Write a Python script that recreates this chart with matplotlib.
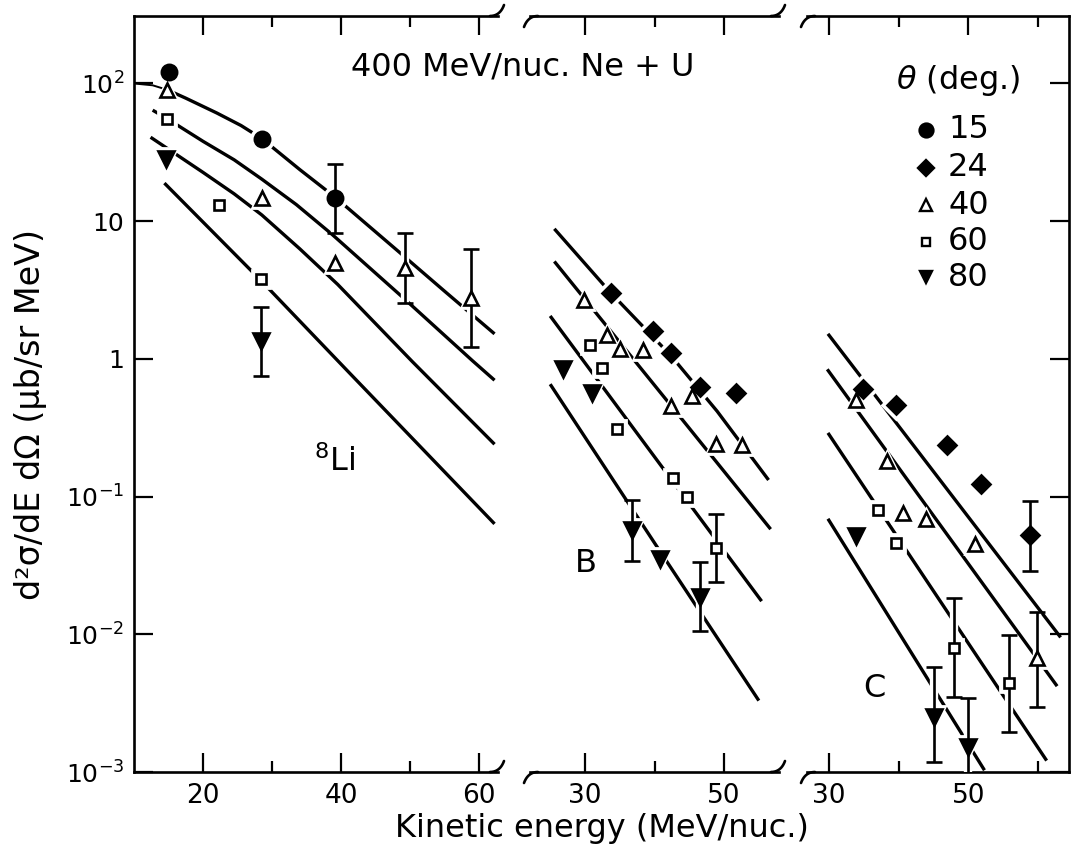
import numpy as np
import matplotlib
matplotlib.use("Agg")
import matplotlib.pyplot as plt
from matplotlib.ticker import NullLocator, FixedLocator, FixedFormatter

plt.rcParams['font.family'] = ['DejaVu Sans']
plt.rcParams['mathtext.fontset'] = 'dejavusans'

# ---------------- data ----------------
# Panel 1 : 8Li
li15_x = [15.0, 28.5, 39.1]
li15_y = [122, 39.4, 14.8]
li40_x = [14.8, 28.5, 39.1, 49.3, 58.8]
li40_y = [90, 14.8, 5.0, 4.6, 2.78]
li60_x = [14.8, 22.3, 28.4]
li60_y = [55.5, 13.2, 3.78]
li80_x = [14.7, 28.4]
li80_y = [28.5, 1.35]
li_err_x = [39.1, 49.3, 58.8, 28.4]
li_err_lo = [8.2, 2.56, 1.21, 0.753]
li_err_hi = [25.8, 8.2, 6.24, 2.38]
li_c1_x = [10.0, 12.7, 14.8, 17.5, 22.0, 25.5, 28.5, 34.0, 39.1, 48.4, 55.0, 62.2]
li_c1_y = [100, 97, 90, 78.2, 61.0, 49.5, 39.8, 23.7, 14.96, 5.96, 3.09, 1.52]
li_c2_x = [12.7, 14.8, 20.0, 24.5, 28.5, 33.5, 38.7, 48.9, 59.0, 62.2]
li_c2_y = [64, 55.5, 38.0, 27.9, 20.2, 13.2, 8.0, 2.8, 0.97, 0.70]
li_c3_x = [12.4, 20.0, 24.5, 28.5, 34.0, 39.5, 50.3, 62.2]
li_c3_y = [40.7, 22.6, 15.8, 11.1, 6.3, 3.47, 0.955, 0.24]
li_c4_x = [14.4, 28.4, 41.2, 62.2]
li_c4_y = [18.9, 3.7, 0.79, 0.0634]

# Panel 2 : B
b24_x = [33.7, 39.8, 42.4, 46.5, 51.7]
b24_y = [3.02, 1.6, 1.11, 0.62, 0.57]
b40_x = [29.9, 33.2, 35.1, 38.3, 42.4, 45.4, 48.9, 52.6]
b40_y = [2.68, 1.49, 1.17, 1.16, 0.456, 0.54, 0.241, 0.238]
b60_x = [30.7, 32.4, 34.6, 42.7, 44.7, 48.8]
b60_y = [1.26, 0.865, 0.31, 0.136, 0.100, 0.042]
b80_x = [26.9, 31.0, 36.8, 40.8, 46.5]
b80_y = [0.84, 0.57, 0.0568, 0.0354, 0.0187]
b_err_x = [48.8, 36.8, 46.5]
b_err_lo = [0.0239, 0.0338, 0.0106]
b_err_hi = [0.075, 0.095, 0.0334]
b_c1_x = [25.6, 33.7, 42.4, 49.0, 56.4]
b_c1_y = [8.8, 3.02, 1.05, 0.417, 0.132]
b_c2_x = [25.6, 42.4, 56.7]
b_c2_y = [5.1, 0.456, 0.058]
b_c3_x = [25.0, 44.7, 55.4]
b_c3_y = [2.05, 0.093, 0.0174]
b_c4_x = [25.0, 40.8, 55.0]
b_c4_y = [0.655, 0.040, 0.0033]

# Panel 3 : C
c24_x = [34.9, 39.7, 46.9, 51.8, 58.8]
c24_y = [0.60, 0.465, 0.238, 0.124, 0.053]
c40_x = [33.9, 38.3, 40.7, 43.9, 50.9, 59.8]
c40_y = [0.50, 0.182, 0.076, 0.069, 0.0454, 0.00678]
c60_x = [37.0, 39.7, 48.0, 55.8]
c60_y = [0.080, 0.046, 0.0080, 0.0044]
c80_x = [33.9, 45.1, 50.0]
c80_y = [0.052, 0.00252, 0.00152]
c_err_x = [58.8, 59.8, 48.0, 55.8, 45.1, 50.0]
c_err_lo = [0.0287, 0.00295, 0.00352, 0.00196, 0.00119, 0.0008]
c_err_hi = [0.0935, 0.0145, 0.0182, 0.00984, 0.00579, 0.00342]
c_c1_x = [29.9, 63.2]
c_c1_y = [1.52, 0.0095]
c_c2_x = [29.8, 62.7]
c_c2_y = [0.84, 0.0042]
c_c3_x = [29.9, 61.2]
c_c3_y = [0.29, 0.00121]
c_c4_x = [29.9, 52.3]
c_c4_y = [0.069, 0.00103]

angles = ['15', '24', '40', '60', '80']
ytick_vals = [1e-3, 1e-2, 1e-1, 1, 10, 100]
ytick_labels = [r'$10^{-3}$', r'$10^{-2}$', r'$10^{-1}$', '1', '10', r'$10^{2}$']

# ---------------- figure ----------------
W, H = 1072, 849
fig = plt.figure(figsize=(W / 100, H / 100), dpi=100)
y_bot, y_top = 772, 16
panels_px = [(134, 498), (530, 779), (807, 1069)]
xlims = [(10.0, 62.7), (22.1, 57.9), (26.9, 64.4)]
axes = []
for (x0, x1), xl in zip(panels_px, xlims):
    ax = fig.add_axes([x0 / W, 1 - y_bot / H, (x1 - x0) / W, (y_bot - y_top) / H])
    ax.set_yscale('log')
    ax.set_ylim(1e-3, 10 ** 2.49)
    ax.set_xlim(*xl)
    axes.append(ax)
ax1, ax2, ax3 = axes

LW = 2.4
SP = 1.9

STY = {
    '15': dict(marker='o', ms=11, mfc='black'),
    '24': dict(marker='D', ms=9, mfc='black'),
    '40': dict(marker='^', ms=10, mfc='white'),
    '60': dict(marker='s', ms=7.5, mfc='white'),
    '80': dict(marker='v', ms=11, mfc='black'),
}


def pts(ax, x, y, key):
    s = STY[key]
    ax.plot(x, y, ls='none', marker=s['marker'], ms=s['ms'] + 5, mfc='white',
            mec='white', mew=2, zorder=3)
    ax.plot(x, y, ls='none', marker=s['marker'], ms=s['ms'], mfc=s['mfc'],
            mec='black', mew=1.9, zorder=5)


def errs(ax, x, lo, hi):
    ax.vlines(x, lo, hi, color='white', lw=6, zorder=3)
    ax.vlines(x, lo, hi, color='black', lw=1.9, zorder=4)
    ax.plot(x, lo, ls='none', marker='_', ms=11, mew=1.9, color='black', zorder=4)
    ax.plot(x, hi, ls='none', marker='_', ms=11, mew=1.9, color='black', zorder=4)


def curve(ax, x, y, lw=LW):
    ax.plot(x, y, color='black', lw=lw, zorder=2, solid_capstyle='butt',
            solid_joinstyle='round')


# Panel 1
curve(ax1, li_c1_x[:3], li_c1_y[:3], lw=1.4)
curve(ax1, li_c1_x[2:], li_c1_y[2:])
for cx, cy in [(li_c2_x, li_c2_y), (li_c3_x, li_c3_y), (li_c4_x, li_c4_y)]:
    curve(ax1, cx, cy)
errs(ax1, li_err_x, li_err_lo, li_err_hi)
pts(ax1, li15_x, li15_y, '15')
pts(ax1, li40_x, li40_y, '40')
pts(ax1, li60_x, li60_y, '60')
pts(ax1, li80_x, li80_y, '80')
ax1.text(39.0, 0.18, r'$^{8}$Li', fontsize=23, ha='center', va='center')

# Panel 2
for cx, cy in [(b_c1_x, b_c1_y), (b_c2_x, b_c2_y), (b_c3_x, b_c3_y), (b_c4_x, b_c4_y)]:
    curve(ax2, cx, cy)
errs(ax2, b_err_x, b_err_lo, b_err_hi)
pts(ax2, b24_x, b24_y, '24')
pts(ax2, b40_x, b40_y, '40')
pts(ax2, b60_x, b60_y, '60')
pts(ax2, b80_x, b80_y, '80')
ax2.text(30.2, 0.0325, 'B', fontsize=23, ha='center', va='center')

# Panel 3
for cx, cy in [(c_c1_x, c_c1_y), (c_c2_x, c_c2_y), (c_c3_x, c_c3_y), (c_c4_x, c_c4_y)]:
    curve(ax3, cx, cy)
errs(ax3, c_err_x, c_err_lo, c_err_hi)
pts(ax3, c24_x, c24_y, '24')
pts(ax3, c40_x, c40_y, '40')
pts(ax3, c60_x, c60_y, '60')
pts(ax3, c80_x, c80_y, '80')
ax3.text(36.5, 0.00405, 'C', fontsize=23, ha='center', va='center')

# ---------------- axes styling ----------------
major_x = [[20, 40, 60], [30, 50], [30, 50]]
minor_x = [[30, 50], [40], [40, 60]]
for i, ax in enumerate(axes):
    for side in ['left', 'right', 'top', 'bottom']:
        ax.spines[side].set_linewidth(SP)
    ax.spines['right'].set_visible(i == 2)
    ax.spines['left'].set_visible(i == 0)
    ax.xaxis.set_major_locator(FixedLocator(major_x[i]))
    ax.xaxis.set_minor_locator(FixedLocator(minor_x[i]))
    ax.tick_params(axis='x', which='major', direction='in', length=14, width=1.6,
                   top=True, bottom=True, labelsize=19, pad=8)
    ax.tick_params(axis='x', which='minor', direction='in', length=8, width=1.6,
                   top=True, bottom=True)
    ax.yaxis.set_major_locator(FixedLocator(ytick_vals))
    ax.yaxis.set_minor_locator(NullLocator())
    ax.set_facecolor('none')

ax1.yaxis.set_major_formatter(FixedFormatter(ytick_labels))
ax1.tick_params(axis='y', which='major', direction='in', length=14, width=1.6,
                left=True, right=False, labelsize=18, pad=7)
ax2.tick_params(axis='y', which='both', left=False, right=False, labelleft=False)
ax3.tick_params(axis='y', which='major', direction='in', length=14, width=1.6,
                left=False, right=True, labelleft=False, labelright=False)


# axis-break hooks
def hook(ax, xa, ya, p0, pc, p1):
    pos = ax.get_position()
    wpx, hpx = pos.width * W, pos.height * H
    t = np.linspace(0, 1, 12)
    bx = (1 - t) ** 2 * p0[0] + 2 * (1 - t) * t * pc[0] + t ** 2 * p1[0]
    by = (1 - t) ** 2 * p0[1] + 2 * (1 - t) * t * pc[1] + t ** 2 * p1[1]
    ax.plot(xa + bx / wpx, ya + by / hpx, transform=ax.transAxes, color='black',
            lw=SP, clip_on=False, solid_capstyle='round', zorder=6)


for ax in [ax1, ax2]:
    for ya in [0, 1]:
        hook(ax, 1, ya, (-8, 0), (2, 0), (6, 11))
for ax in [ax2, ax3]:
    for ya in [0, 1]:
        hook(ax, 0, ya, (-6, -11), (-2, 0), (8, 0))

# ---------------- texts ----------------
fig.text(523 / W, 1 - 67 / H, '400 MeV/nuc. Ne + U', fontsize=23, ha='center', va='center')
fig.text(602 / W, 1 - 828 / H, 'Kinetic energy (MeV/nuc.)', fontsize=23, ha='center', va='center')
fig.text(31 / W, 1 - 414 / H, 'd²σ/dE dΩ (μb/sr MeV)', fontsize=24, rotation=90,
         ha='center', va='center')

# legend
fig.text(958 / W, 1 - 81 / H, r'$\theta$ (deg.)', fontsize=23, ha='center', va='center')
leg_rows = [130, 168, 205, 242, 277]
leg_ms = {'15': 10, '24': 8, '40': 8, '60': 6, '80': 9}
for key, yr in zip(angles, leg_rows):
    s = STY[key]
    ax3.plot([926 / W], [1 - yr / H], transform=fig.transFigure, clip_on=False,
             ls='none', marker=s['marker'], ms=leg_ms[key], mfc=s['mfc'], mec='black', mew=1.7)
    fig.text(948 / W, 1 - yr / H, key, fontsize=23, ha='left', va='center')

fig.savefig('out.png', dpi=100)
